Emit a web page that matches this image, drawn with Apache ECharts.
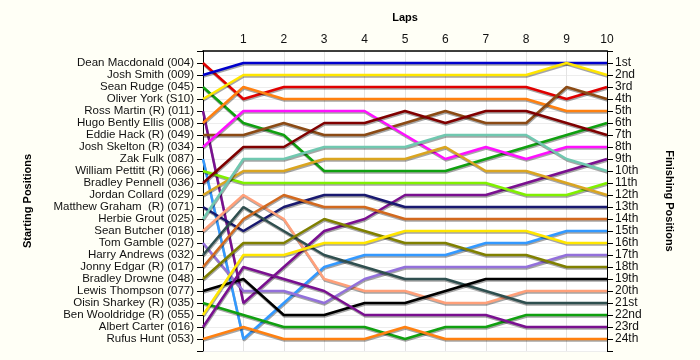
<!DOCTYPE html>
<html>
<head>
<meta charset="utf-8">
<script src="https://cdn.jsdelivr.net/npm/echarts@6/dist/echarts.min.js"></script>
<style>
html,body{margin:0;padding:0;background:#FFFFF6;}
#c{width:700px;height:360px;}
</style>
</head>
<body>
<div id="c"></div>
<script>
const laps = [0,1,2,3,4,5,6,7,8,9,10];
const startNames = [
  "Dean Macdonald (004)","Josh Smith (009)","Sean Rudge (045)","Oliver York (S10)",
  "Ross Martin (R) (011)","Hugo Bently Ellis (008)","Eddie Hack (R) (049)","Josh Skelton (R) (034)",
  "Zak Fulk (087)","William Pettitt (R) (066)","Bradley Pennell (036)","Jordan Collard (029)",
  "Matthew Graham  (R) (071)","Herbie Grout (025)","Sean Butcher (018)","Tom Gamble (027)",
  "Harry Andrews (032)","Jonny Edgar (R) (017)","Bradley Drowne (048)","Lewis Thompson (077)",
  "Oisin Sharkey (R) (035)","Ben Wooldridge (R) (055)","Albert Carter (016)","Rufus Hunt (053)"
];
const finishLabels = ["1st","2nd","3rd","4th","5th","6th","7th","8th","9th","10th","11th","12th",
  "13th","14th","15th","16th","17th","18th","19th","20th","21st","22nd","23rd","24th"];
const lineColors = ["#E00000","#0000CC","#10A010","#FFE600","#7A1090","#FF8010","#8B4A14","#FF10FF",
  "#3399FF","#80F000","#800000","#DAA520","#191970","#70C8B0","#FFA07A","#9370DB",
  "#2F4F4F","#D2691E","#808000","#000000","#10A010","#FFE600","#7A1090","#FF8010"];
const lapPositions = [
  [1,4,3,3,3,3,3,3,3,4,3],
  [2,1,1,1,1,1,1,1,1,1,1],
  [3,6,7,10,10,10,10,9,8,7,6],
  [4,2,2,2,2,2,2,2,2,1,2],
  [5,21,18,15,14,12,12,12,11,10,9],
  [6,3,4,4,4,4,4,4,4,5,5],
  [7,7,6,7,7,6,5,6,6,3,4],
  [8,5,5,5,5,7,9,8,9,8,8],
  [9,24,21,18,17,17,17,16,16,15,15],
  [10,11,11,11,11,11,11,11,12,12,11],
  [11,8,8,6,6,5,6,5,5,6,7],
  [12,10,10,9,9,9,8,10,10,11,12],
  [13,15,13,12,12,13,13,13,13,13,13],
  [14,9,9,8,8,8,7,7,7,9,10],
  [15,12,14,19,20,20,21,21,20,20,20],
  [16,20,20,21,19,18,18,18,18,17,17],
  [17,13,15,17,18,19,19,20,21,21,21],
  [18,14,12,13,13,14,14,14,14,14,14],
  [19,16,16,14,15,16,16,17,17,18,18],
  [20,19,22,22,21,21,20,19,19,19,19],
  [21,22,23,23,23,24,23,23,22,22,22],
  [22,17,17,16,16,15,15,15,15,16,16],
  [23,18,19,20,22,22,22,22,23,23,23],
  [24,23,24,24,24,23,24,24,24,24,24]
];

const font = "Liberation Sans";
const chart = echarts.init(document.getElementById('c'), null, {renderer:'canvas'});
const yBase = {
  type:'value', min:0, max:25, interval:1, inverse:true,
  axisLine:{show:true, lineStyle:{color:'#000', width:1}},
  axisTick:{show:true, length:6, lineStyle:{color:'#000'}},
  splitLine:{show:false},
  nameLocation:'middle',
  nameTextStyle:{fontFamily:font, fontWeight:'bold', fontSize:11, color:'#000'}
};
const option = {
  backgroundColor:'#FFFFF6',
  animation:false,
  grid:{left:203, right:93, top:51, bottom:9, show:true, backgroundColor:'#FFFFFF', borderWidth:0,
    containLabel:false, outerBoundsMode:'none'},
  xAxis:{
    type:'value', position:'top', min:0, max:10, interval:1,
    name:'Laps', nameLocation:'middle', nameGap:28,
    nameTextStyle:{fontFamily:font, fontWeight:'bold', fontSize:11, color:'#000'},
    axisLine:{show:true, lineStyle:{color:'#000', width:1.5}},
    axisTick:{show:false},
    axisLabel:{fontFamily:font, fontSize:12, color:'#111', margin:5,
      formatter:v => v===0 ? '' : String(v)},
    splitLine:{show:true, lineStyle:{color:'#E4E4E4', width:1}}
  },
  yAxis:[
    Object.assign({}, yBase, {
      position:'left', name:'Starting Positions', nameGap:170, nameRotate:90,
      axisLabel:{fontFamily:font, fontSize:11.5, color:'#111', margin:9,
        formatter:v => (v>=1 && v<=startNames.length) ? startNames[v-1] : ''},
      splitLine:{show:true, lineStyle:{color:'#EDEDED', width:1}}
    }),
    Object.assign({}, yBase, {
      position:'right', name:'Finishing Positions', nameGap:57, nameRotate:-90,
      axisLabel:{fontFamily:font, fontSize:12, color:'#111', margin:8,
        formatter:v => (v>=1 && v<=finishLabels.length) ? finishLabels[v-1] : ''}
    })
  ],
  series: lapPositions.map((pos, i) => ({
    type:'line', name:startNames[i], yAxisIndex:0,
    data: laps.map((l, k) => [l, pos[k]]),
    symbol:'none',
    lineStyle:{color:lineColors[i], width:2.5, shadowColor:'rgba(0,0,0,0.35)', shadowBlur:0, shadowOffsetX:0.5, shadowOffsetY:1.5},
    itemStyle:{color:lineColors[i]}
  }))
};
chart.setOption(option);
</script>
</body>
</html>
